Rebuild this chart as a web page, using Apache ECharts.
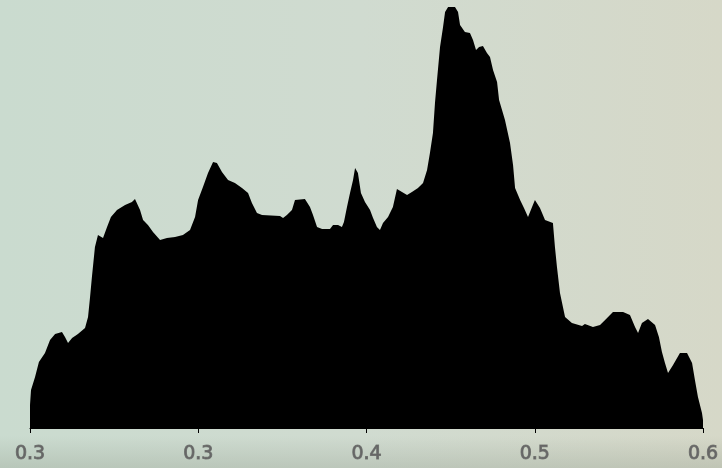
<!DOCTYPE html>
<html>
<head>
<meta charset="utf-8">
<script src="https://cdn.jsdelivr.net/npm/echarts@6/dist/echarts.min.js"></script>
<style>
  html, body { margin: 0; padding: 0; }
  #chart { width: 722px; height: 468px; }
</style>
</head>
<body>
<div id="chart"></div>
<script>
// Histogram outline: bin position and count at that position
const binX = [
  0.2000, 0.2006, 0.2030, 0.2053, 0.2089, 0.2119, 0.2149, 0.2190, 0.2208, 0.2226,
  0.2250, 0.2285, 0.2327, 0.2345, 0.2357, 0.2368, 0.2386, 0.2404, 0.2434, 0.2458,
  0.2481, 0.2517, 0.2565, 0.2606, 0.2624, 0.2654, 0.2672, 0.2701, 0.2731, 0.2773,
  0.2814, 0.2862, 0.2909, 0.2951, 0.2981, 0.2999, 0.3028, 0.3058, 0.3088, 0.3111,
  0.3141, 0.3177, 0.3218, 0.3260, 0.3296, 0.3319, 0.3349, 0.3379, 0.3486, 0.3504,
  0.3527, 0.3557, 0.3575, 0.3634, 0.3664, 0.3682, 0.3706, 0.3736, 0.3783, 0.3801,
  0.3831, 0.3854, 0.3866, 0.3884, 0.3902, 0.3920, 0.3932, 0.3949, 0.3967, 0.3991,
  0.4021, 0.4039, 0.4062, 0.4080, 0.4098, 0.4128, 0.4157, 0.4181, 0.4211, 0.4241,
  0.4270, 0.4306, 0.4336, 0.4360, 0.4377, 0.4395, 0.4407, 0.4419, 0.4437, 0.4455,
  0.4467, 0.4485, 0.4526, 0.4544, 0.4556, 0.4585, 0.4615, 0.4633, 0.4651, 0.4669,
  0.4692, 0.4716, 0.4734, 0.4752, 0.4776, 0.4788, 0.4823, 0.4853, 0.4871, 0.4883,
  0.4913, 0.4936, 0.4960, 0.4984, 0.5001, 0.5031, 0.5061, 0.5108, 0.5120, 0.5132,
  0.5150, 0.5180, 0.5221, 0.5281, 0.5298, 0.5346, 0.5388, 0.5418, 0.5465, 0.5525,
  0.5566, 0.5596, 0.5614, 0.5637, 0.5673, 0.5715, 0.5738, 0.5756, 0.5774, 0.5792,
  0.5822, 0.5863, 0.5905, 0.5935, 0.5952, 0.5970, 0.5994, 0.6000
];
const binCount = [
   23,  38,  51,  66,  75,  88,  94,  96,  91,  85,
   90,  94, 100, 111, 131, 151, 181, 193, 190, 201,
  211, 218, 223, 226, 229, 218, 208, 203, 196, 188,
  190, 191, 193, 198, 211, 228, 241, 255, 266, 265,
  256, 248, 245, 240, 235, 225, 215, 213, 212, 210,
  213, 218, 228, 229, 221, 213, 201, 199, 199, 203,
  203, 201, 206, 221, 235, 248, 260, 255, 235, 226,
  218, 210, 201, 198, 205, 211, 221, 239, 236, 233,
  236, 240, 245, 258, 275, 295, 325, 348, 381, 401,
  416, 421, 421, 416, 403, 396, 395, 388, 378, 381,
  382, 375, 371, 358, 346, 328, 308, 285, 263, 240,
  228, 220, 211, 221, 228, 220, 208, 205, 181, 161,
  135, 111, 105, 102, 104, 101, 103, 108, 116, 116,
  113, 101,  95, 105, 109, 103,  91,  76,  65,  55,
   63,  75,  75,  65,  48,  31,  15,   8
];
// Axis tick labels, in tick order
const tickLabels = ['0.3', '0.3', '0.4', '0.5', '0.6'];

const chart = echarts.init(document.getElementById('chart'));
chart.setOption({
  animation: false,
  backgroundColor: {
    type: 'linear', x: 0, y: 0, x2: 1, y2: 0,
    colorStops: [
      { offset: 0, color: '#cadbcf' },
      { offset: 0.5, color: '#d0dbd0' },
      { offset: 1, color: '#d6d8c8' }
    ]
  },
  // faint darker band along the bottom edge
  graphic: [{
    type: 'rect',
    z: -1,
    shape: { x: 0, y: 436, width: 722, height: 32 },
    style: {
      fill: {
        type: 'linear', x: 0, y: 0, x2: 0, y2: 1,
        colorStops: [
          { offset: 0, color: 'rgba(150,160,145,0)' },
          { offset: 1, color: 'rgba(150,160,145,0.35)' }
        ]
      }
    }
  }],
  grid: { left: 30, right: 19, top: 0, bottom: 40 },
  xAxis: {
    type: 'value',
    min: 0.2, max: 0.6, interval: 0.1,
    splitLine: { show: false },
    axisLine: { show: true, lineStyle: { color: '#000', width: 1 } },
    axisTick: { show: true, length: 5, lineStyle: { color: '#000' } },
    axisLabel: {
      margin: 17,
      fontFamily: 'DejaVu Sans',
      fontSize: 19,
      color: '#666666',
      textBorderColor: 'rgba(60,60,60,0.55)',
      textBorderWidth: 1,
      formatter: (v, i) => tickLabels[i]
    }
  },
  yAxis: {
    type: 'value', min: 0, max: 428, show: false
  },
  series: [{
    type: 'line',
    data: binX.map((x, i) => [x, binCount[i]]),
    symbol: 'none',
    lineStyle: { width: 0 },
    areaStyle: { color: '#000', opacity: 1 },
    clip: false
  }]
});
</script>
</body>
</html>
